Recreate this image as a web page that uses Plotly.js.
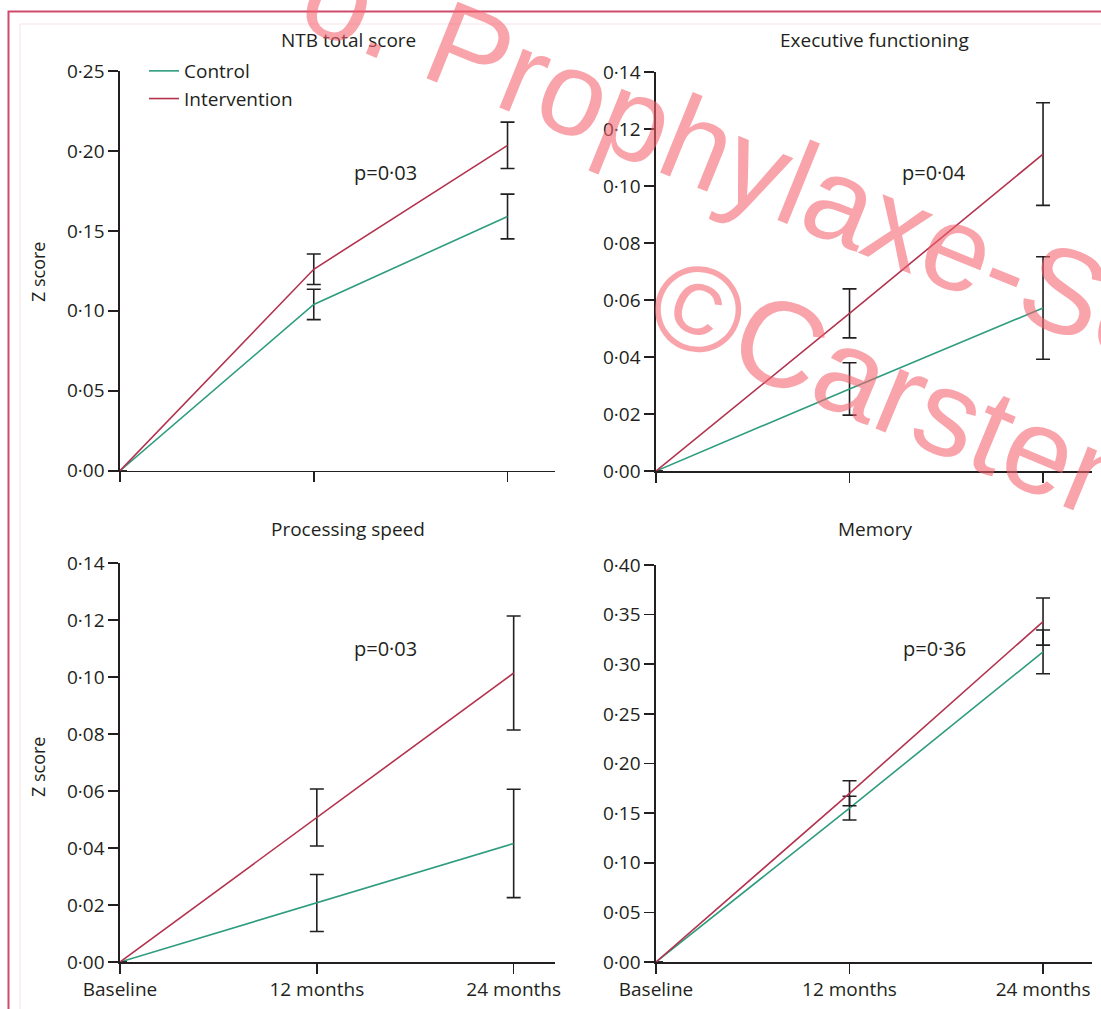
<!DOCTYPE html>
<html>
<head>
<meta charset="utf-8">
<script src="https://cdn.plot.ly/plotly-3.0.1.min.js"></script>
<style>html,body{margin:0;padding:0;background:#fff;overflow:hidden;}#chart{width:1101px;height:1009px;}</style>
</head>
<body>
<div id="chart"></div>
<script>
// ---- data ----
const timepoints = ['Baseline', '12 months', '24 months'];
const seriesNames = ['Control', 'Intervention'];
const panelTitles = ['NTB total score', 'Executive functioning', 'Processing speed', 'Memory'];
const pValues = ['p=0·03', 'p=0·04', 'p=0·03', 'p=0·36'];

const ntbControl = [0, 0.104, 0.159];
const ntbControlErr = [0, 0.0095, 0.014];
const ntbIntervention = [0, 0.126, 0.2035];
const ntbInterventionErr = [0, 0.0095, 0.0145];

const execControl = [0, 0.0288, 0.0572];
const execControlErr = [0, 0.0092, 0.018];
const execIntervention = [0, 0.0553, 0.1112];
const execInterventionErr = [0, 0.0086, 0.018];

const speedControl = [0, 0.0207, 0.0416];
const speedControlErr = [0, 0.01, 0.019];
const speedIntervention = [0, 0.0507, 0.1014];
const speedInterventionErr = [0, 0.01, 0.02];

const memControl = [0, 0.155, 0.3125];
const memControlErr = [0, 0.012, 0.022];
const memIntervention = [0, 0.170, 0.343];
const memInterventionErr = [0, 0.0126, 0.0237];

const ntbTicks = [0, 0.05, 0.10, 0.15, 0.20, 0.25];
const smallTicks = [0, 0.02, 0.04, 0.06, 0.08, 0.10, 0.12, 0.14];
const memTicks = [0, 0.05, 0.10, 0.15, 0.20, 0.25, 0.30, 0.35, 0.40];

const watermarkLines = ['o. Prophylaxe-Se', '©Carsten'];

// ---- styling ----
const W = 1101, H = 1009;
const px = x => x / W;
const py = y => 1 - y / H;
const FONT = '"Open Sans", "Noto Sans", sans-serif';
const INK = '#231f20';
const cControl = '#2e9c7e';
const cIntervention = '#b3334f';
const fmt = v => v.toFixed(2).replace('.', '·');

const panels = [
  {c: ntbControl, ce: ntbControlErr, i: ntbIntervention, ie: ntbInterventionErr, ticks: ntbTicks},
  {c: execControl, ce: execControlErr, i: execIntervention, ie: execInterventionErr, ticks: smallTicks},
  {c: speedControl, ce: speedControlErr, i: speedIntervention, ie: speedInterventionErr, ticks: smallTicks},
  {c: memControl, ce: memControlErr, i: memIntervention, ie: memInterventionErr, ticks: memTicks}
];

// pixel boxes: [left, right, bottom(y=0), top]
const boxes = [
  [120, 555, 470.7, 71],
  [656, 1092, 471, 72],
  [120, 555, 962, 563],
  [656, 1092, 962, 565]
];
const xEnd = [2.245, 2.253, 2.21, 2.253];

const traces = [];
panels.forEach((p, k) => {
  const sfx = k === 0 ? '' : String(k + 1);
  const mk = (y, e, name, color) => ({
    type: 'scatter', mode: 'lines', x: timepoints, y: y, name: name,
    xaxis: 'x' + sfx, yaxis: 'y' + sfx, showlegend: k === 0, cliponaxis: false,
    line: {color: color, width: 1.6},
    error_y: {type: 'data', array: e, visible: true, color: INK, thickness: 1.6, width: 7},
    hoverinfo: 'skip'
  });
  traces.push(mk(p.c, p.ce, seriesNames[0], cControl));
  traces.push(mk(p.i, p.ie, seriesNames[1], cIntervention));
});

const layout = {
  width: W, height: H,
  margin: {l: 0, r: 0, t: 0, b: 0},
  paper_bgcolor: '#ffffff', plot_bgcolor: 'rgba(0,0,0,0)',
  font: {family: FONT, color: INK, size: 19},
  showlegend: true,
  legend: {x: px(144), y: py(52), xanchor: 'left', yanchor: 'top', bgcolor: 'rgba(0,0,0,0)',
    font: {family: FONT, size: 19, color: INK}, tracegroupgap: 0, itemwidth: 30},
  annotations: [], shapes: []
};

panels.forEach((p, k) => {
  const sfx = k === 0 ? '' : String(k + 1);
  const b = boxes[k];
  layout['xaxis' + sfx] = {
    type: 'category', domain: [px(b[0]), px(b[1])], anchor: 'y' + sfx,
    range: [0, xEnd[k]], showgrid: false, zeroline: false,
    showline: true, linecolor: INK, linewidth: 1.6,
    ticks: 'outside', ticklen: 10, tickwidth: 1.6, tickcolor: INK,
    tickvals: timepoints, ticktext: timepoints,
    showticklabels: k >= 2, tickfont: {family: FONT, size: 19, color: INK}
  };
  layout['yaxis' + sfx] = {
    domain: [py(b[2]), py(b[3])], anchor: 'x' + sfx,
    range: [0, p.ticks[p.ticks.length - 1]], showgrid: false, zeroline: false,
    showline: true, linecolor: INK, linewidth: 1.6,
    ticks: 'outside', ticklen: 10, tickwidth: 1.6, tickcolor: INK,
    tickvals: p.ticks, ticktext: p.ticks.map(fmt),
    tickfont: {family: FONT, size: 19, color: INK}
  };
});

const titlePos = [[348, 40], [874, 40], [348, 529], [875, 529]];
const pPos = [[385, 172], [934, 172], [385, 648], [934, 648]];
panelTitles.forEach((t, k) => {
  layout.annotations.push({text: t, x: px(titlePos[k][0]), y: py(titlePos[k][1]), xref: 'paper', yref: 'paper',
    showarrow: false, xanchor: 'center', yanchor: 'middle', font: {family: FONT, size: 19, color: INK}});
  layout.annotations.push({text: pValues[k], x: px(pPos[k][0]), y: py(pPos[k][1]), xref: 'paper', yref: 'paper',
    showarrow: false, xanchor: 'center', yanchor: 'middle', font: {family: FONT, size: 20, color: INK}});
});
[[38, 272], [38, 767]].forEach(pos => {
  layout.annotations.push({text: 'Z score', x: px(pos[0]), y: py(pos[1]), xref: 'paper', yref: 'paper',
    showarrow: false, textangle: -90, xanchor: 'center', yanchor: 'middle', font: {family: FONT, size: 18, color: INK}});
});

// watermark
const wmColor = 'rgba(244,96,108,0.58)';
const wmFont = '"Liberation Sans", Arial, sans-serif';
layout.annotations.push({text: watermarkLines[0], x: px(736), y: py(158), xref: 'paper', yref: 'paper',
  showarrow: false, textangle: 22, xanchor: 'center', yanchor: 'middle',
  font: {family: wmFont, size: 120, color: wmColor}});
layout.annotations.push({text: watermarkLines[1], x: px(895), y: py(391), xref: 'paper', yref: 'paper',
  showarrow: false, textangle: 22.5, xanchor: 'center', yanchor: 'middle',
  font: {family: wmFont, size: 122, color: wmColor}});

// frame
layout.shapes.push({type: 'rect', xref: 'paper', yref: 'paper', x0: px(20), x1: 1.05, y0: -0.05, y1: py(24),
  line: {color: '#f7e1e6', width: 1}, layer: 'below'});
layout.shapes.push({type: 'rect', xref: 'paper', yref: 'paper', x0: px(8.5), x1: 1.05, y0: -0.05, y1: py(11.5),
  line: {color: '#cf4a6d', width: 2}, layer: 'above'});

Plotly.newPlot('chart', traces, layout, {staticPlot: true, displayModeBar: false});
</script>
</body>
</html>
